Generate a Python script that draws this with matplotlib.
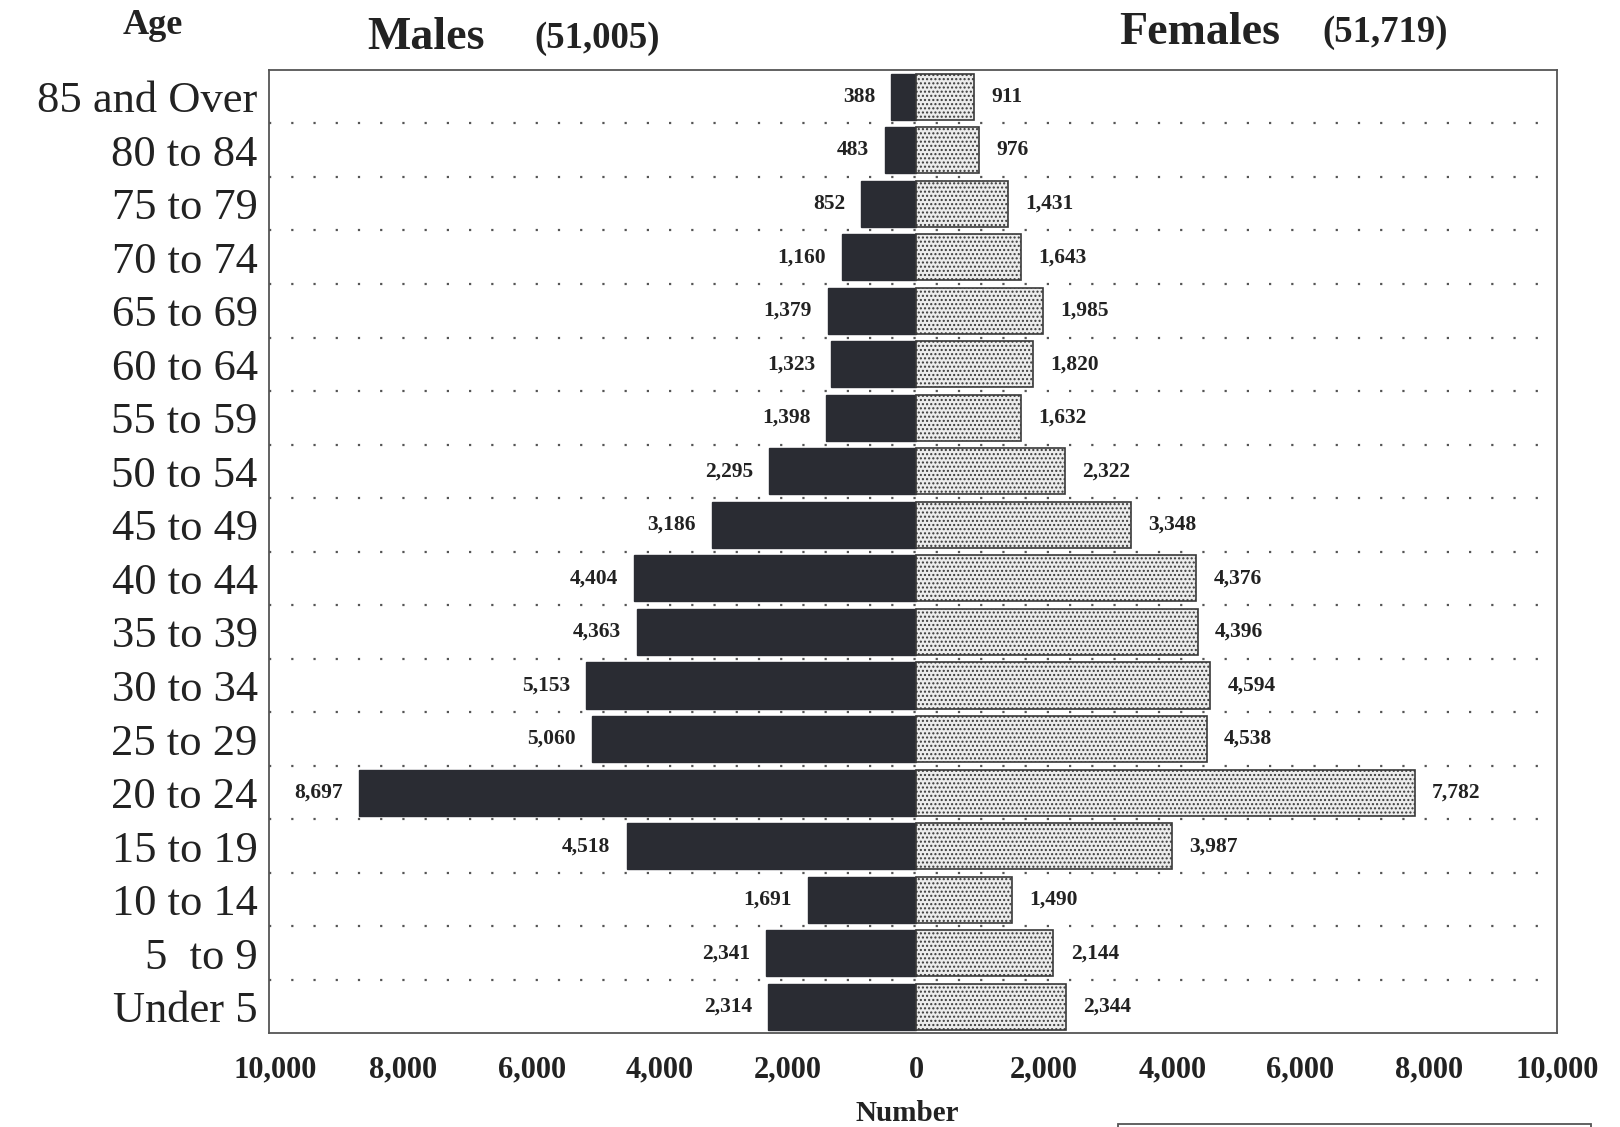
import numpy as np
import matplotlib.pyplot as plt
from matplotlib.patches import Rectangle

plt.rcParams['font.family'] = ['Liberation Serif', 'DejaVu Serif']
plt.rcParams['hatch.color'] = '#8a8a8a'

# Grupos de idade (de cima para baixo)
ages = ['85 and Over', '80 to 84', '75 to 79', '70 to 74', '65 to 69', '60 to 64',
        '55 to 59', '50 to 54', '45 to 49', '40 to 44', '35 to 39', '30 to 34',
        '25 to 29', '20 to 24', '15 to 19', '10 to 14', '5  to 9', 'Under 5']
males = [388, 483, 852, 1160, 1379, 1323, 1398, 2295, 3186, 4404, 4363, 5153,
         5060, 8697, 4518, 1691, 2341, 2314]
females = [911, 976, 1431, 1643, 1985, 1820, 1632, 2322, 3348, 4376, 4396, 4594,
           4538, 7782, 3987, 1490, 2144, 2344]
xticks = [-10000, -8000, -6000, -4000, -2000, 0, 2000, 4000, 6000, 8000, 10000]

n = len(ages)
y = np.arange(n)[::-1]  # topo = 85 and Over
ink = '#222222'

fig = plt.figure(figsize=(16.2, 11.27), dpi=100)
ax = fig.add_axes([0.166, 0.083, 0.795, 0.855])

ax.barh(y, [-m for m in males], height=0.86, color='#2a2c33', edgecolor='#2a2c33', zorder=3)
ax.barh(y, females, height=0.86, color='#ececec', edgecolor='#3a3a3a',
        hatch='....', linewidth=1.2, zorder=3)

# linhas pontilhadas entre as faixas
for k in range(1, n):
    ax.axhline(k - 0.5, color='#555555', linestyle=(0, (1, 9)), linewidth=1.6, zorder=1)

# rótulos dos valores
for yi, m, f in zip(y, males, females):
    ax.text(-m - 250, yi, f'{m:,}', ha='right', va='center', fontsize=15.5,
            fontweight='bold', color=ink)
    ax.text(f + 270, yi, f'{f:,}', ha='left', va='center', fontsize=15.5,
            fontweight='bold', color=ink)

ax.set_xlim(-10100, 10000)
ax.set_ylim(-0.5, n - 0.5)
ax.set_yticks(y)
ax.set_yticklabels(ages, fontsize=32, color=ink)
ax.set_xticks(xticks)
ax.set_xticklabels([f'{abs(v):,}' for v in xticks], fontsize=22, fontweight='bold',
                   color=ink)
ax.tick_params(length=0)
ax.tick_params(axis='x', pad=16)
ax.tick_params(axis='y', pad=8)
for s in ax.spines.values():
    s.set_color('#555555')
    s.set_linewidth(1.3)

fig.text(0.094, 0.977, 'Age', ha='center', va='center', fontsize=26, fontweight='bold',
         color=ink)
fig.text(0.2265, 0.966, 'Males', ha='left', va='center', fontsize=33, fontweight='bold',
         color=ink)
fig.text(0.3297, 0.966, '(51,005)', ha='left', va='center', fontsize=26.5, fontweight='bold',
         color=ink)
fig.text(0.6907, 0.971, 'Females', ha='left', va='center', fontsize=33, fontweight='bold',
         color=ink)
fig.text(0.816, 0.971, '(51,719)', ha='left', va='center', fontsize=26.5, fontweight='bold',
         color=ink)
fig.text(0.560, 0.012, 'Number', ha='center', va='center', fontsize=21, fontweight='bold',
         color=ink)

# caixa da legenda cortada no rodapé
fig.add_artist(Rectangle((0.690, -0.01), 0.292, 0.013, transform=fig.transFigure,
                         fill=False, edgecolor='#555555', linewidth=1.3))

fig.savefig('out.png', dpi=100, facecolor='white')
